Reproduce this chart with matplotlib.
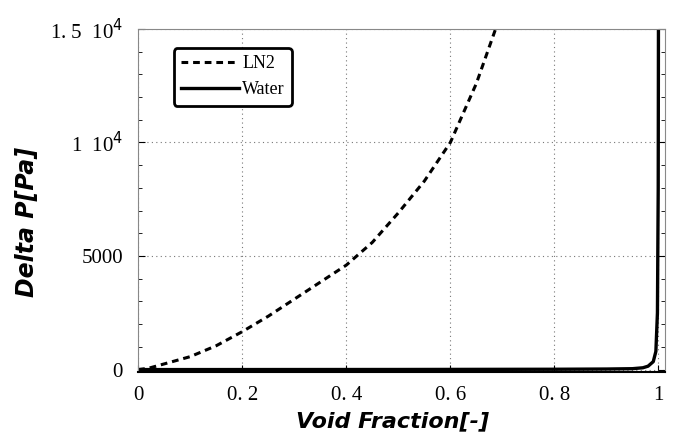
import matplotlib
matplotlib.use("Agg")
import matplotlib.pyplot as plt
from matplotlib.ticker import MultipleLocator

# Data
ln2_x = [0.0, 0.02, 0.05, 0.1, 0.15, 0.2, 0.25, 0.3, 0.35, 0.4, 0.45, 0.5, 0.55, 0.6, 0.65, 0.687]
ln2_y = [0, 60, 250, 570, 1050, 1670, 2350, 3100, 3850, 4600, 5600, 6900, 8300, 10000, 12600, 15000]

water_x = [0.0, 0.5, 0.8, 0.9, 0.95, 0.97, 0.98, 0.99, 0.995, 0.998, 0.9995, 1.0]
water_y = [0, 5, 15, 25, 40, 80, 150, 350, 800, 2500, 8000, 16000]

xticks = [0, 0.2, 0.4, 0.6, 0.8, 1.0]
xticklabels = ["0", "0. 2", "0. 4", "0. 6", "0. 8", "1"]
yticks = [0, 5000, 10000, 15000]
yticklabels = ["0", "5000", r"1  10$^{4}$", r"1. 5  10$^{4}$"]

fig = plt.figure(figsize=(6.74, 4.38), dpi=100)
ax = fig.add_axes([0.205, 0.151, 0.782, 0.783])

ax.plot(ln2_x, ln2_y, color="black", linestyle=(0, (2.2, 1.6)), linewidth=2.2, label="LN2")
ax.plot(water_x, water_y, color="black", linestyle="-", linewidth=2.4, label="Water")

ax.set_xlim(0, 1.013)
ax.set_ylim(-100, 15000)
ax.set_xticks(xticks)
ax.set_xticklabels(xticklabels, family="Liberation Serif", fontsize=15)
ax.set_yticks(yticks)
ax.set_yticklabels(yticklabels, family="Liberation Serif", fontsize=15)
ax.yaxis.set_minor_locator(MultipleLocator(1000))
ax.tick_params(which="both", direction="in", right=True, top=False)
ax.tick_params(which="major", length=5, width=0.8)
ax.tick_params(which="minor", length=3, width=0.6)
ax.tick_params(axis="x", pad=10)
ax.tick_params(axis="y", pad=11)

ax.grid(True, which="major", color="#777777", linestyle=(0, (1, 3)), linewidth=0.8)
for side in ["left", "top", "right"]:
    ax.spines[side].set_color("#888888")
    ax.spines[side].set_linestyle((0, (1, 1)))
    ax.spines[side].set_linewidth(0.8)
ax.spines["bottom"].set_linewidth(1.5)

ax.set_xlabel("Void Fraction[-]", fontsize=16, fontweight="bold", fontstyle="italic",
              family="DejaVu Sans")
ax.set_ylabel("Delta P[Pa]", fontsize=17, fontweight="bold", fontstyle="italic",
              family="DejaVu Sans")
ax.xaxis.set_label_coords(0.482, -0.143)
ax.yaxis.set_label_coords(-0.21, 0.438)
ax.xaxis.label.set_va("center")
ax.yaxis.label.set_va("center")

leg = ax.legend(loc="upper left", bbox_to_anchor=(0.05, 0.97),
                handlelength=3.2, handletextpad=0.2, borderpad=0.4,
                prop={"family": "Liberation Serif", "size": 13}, fancybox=True, framealpha=1)
leg.get_frame().set_edgecolor("black")
leg.get_frame().set_linewidth(2.0)

fig.savefig("out.png", dpi=100)
